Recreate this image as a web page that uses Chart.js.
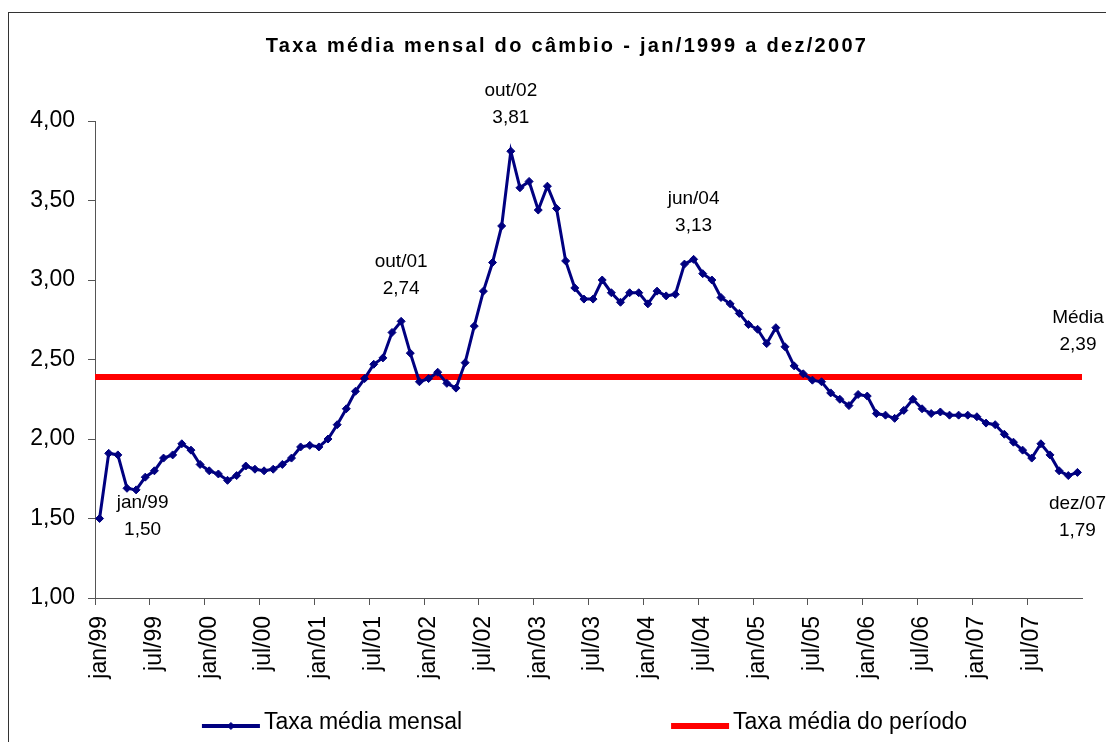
<!DOCTYPE html>
<html lang="pt-BR">
<head>
<meta charset="utf-8">
<title>Taxa média mensal do câmbio</title>
<script src="https://cdn.jsdelivr.net/npm/chart.js@4.4.1/dist/chart.umd.min.js"></script>
<style>
    html, body { margin: 0; padding: 0; background: #fff; overflow: hidden; }
    #wrap { position: relative; width: 1106px; height: 742px; }
    #cambioChart { display: block; }
    #moldura {
        position: absolute; left: 8px; top: 12px;
        width: 1200px; height: 800px;
        border: 1px solid #333; pointer-events: none;
    }
</style>
</head>
<body>
<div id="wrap">
    <canvas id="cambioChart" width="1106" height="742"></canvas>
    <div id="moldura"></div>
</div>
<script>
// Dados (R$/US$, média mensal)
const meses = ['jan', 'fev', 'mar', 'abr', 'mai', 'jun', 'jul', 'ago', 'set', 'out', 'nov', 'dez'];
const anos = ['99', '00', '01', '02', '03', '04', '05', '06', '07'];

const taxa1999 = [1.50, 1.91, 1.90, 1.69, 1.68, 1.76, 1.80, 1.88, 1.90, 1.97, 1.93, 1.84];
const taxa2000 = [1.80, 1.78, 1.74, 1.77, 1.83, 1.81, 1.80, 1.81, 1.84, 1.88, 1.95, 1.96];
const taxa2001 = [1.95, 2.00, 2.09, 2.19, 2.30, 2.38, 2.47, 2.51, 2.67, 2.74, 2.54, 2.36];
const taxa2002 = [2.38, 2.42, 2.35, 2.32, 2.48, 2.71, 2.93, 3.11, 3.34, 3.81, 3.58, 3.62];
const taxa2003 = [3.44, 3.59, 3.45, 3.12, 2.95, 2.88, 2.88, 3.00, 2.92, 2.86, 2.92, 2.92];
const taxa2004 = [2.85, 2.93, 2.90, 2.91, 3.10, 3.13, 3.04, 3.00, 2.89, 2.85, 2.79, 2.72];
const taxa2005 = [2.69, 2.60, 2.70, 2.58, 2.46, 2.41, 2.37, 2.36, 2.29, 2.25, 2.21, 2.28];
const taxa2006 = [2.27, 2.16, 2.15, 2.13, 2.18, 2.25, 2.19, 2.16, 2.17, 2.15, 2.15, 2.15];
const taxa2007 = [2.14, 2.10, 2.09, 2.03, 1.98, 1.93, 1.88, 1.97, 1.90, 1.80, 1.77, 1.79];

const mediaPeriodo = 2.39;

// meses destacados com rótulo (índices na série)
const destaques = [0, 33, 45, 65, 107];

const titulo = 'Taxa média mensal do câmbio - jan/1999 a dez/2007';

const taxa = [].concat(taxa1999, taxa2000, taxa2001, taxa2002, taxa2003,
    taxa2004, taxa2005, taxa2006, taxa2007);
const rotulos = [];
anos.forEach(a => meses.forEach(m => rotulos.push(m + '/' + a)));

const fonte = "'Liberation Sans', Arial, sans-serif";
const corEixo = '#555';
const fmt = v => v.toFixed(2).replace('.', ',');

// deslocamento (px) do rótulo de cada destaque em relação ao ponto
const deslocDestaques = [[43, -16], [0, -60], [0, -60], [0, -61], [0, 31]];

// Título com espaçamento entre letras
const tituloPlugin = {
    id: 'titulo',
    afterDraw(chart) {
        const ctx = chart.ctx;
        ctx.save();
        ctx.font = 'bold 20px ' + fonte;
        ctx.letterSpacing = '2.3px';
        ctx.fillStyle = '#000';
        ctx.textAlign = 'center';
        ctx.textBaseline = 'alphabetic';
        ctx.fillText(titulo, 567, 52);
        ctx.restore();
    }
};

// Rótulos dos pontos destacados e da média
const destaquesPlugin = {
    id: 'destaques',
    afterDatasetsDraw(chart) {
        const { ctx, scales } = chart;
        ctx.save();
        ctx.font = '19px ' + fonte;
        ctx.fillStyle = '#000';
        ctx.textAlign = 'center';
        ctx.textBaseline = 'middle';
        destaques.forEach((i, k) => {
            const [dx, dy] = deslocDestaques[k];
            const px = scales.x.getPixelForValue(i) + dx;
            const py = scales.y.getPixelForValue(taxa[i]) + dy;
            ctx.fillText(rotulos[i], px, py);
            ctx.fillText(fmt(taxa[i]), px, py + 27);
        });
        const mx = scales.x2.getPixelForValue(taxa.length - 0.5) - 4;
        const my = scales.y.getPixelForValue(mediaPeriodo) - 59;
        ctx.fillText('Média', mx, my);
        ctx.fillText(fmt(mediaPeriodo), mx, my + 27);
        ctx.restore();
    }
};

// Legenda no estilo do Excel, perto do centro da área do gráfico
const legendaPlugin = {
    id: 'legendaExcel',
    afterDraw(chart) {
        const { ctx, chartArea } = chart;
        const amostra = 58, folga = 4, espaco = 209, yl = 726;
        ctx.save();
        ctx.font = '23px ' + fonte;
        const itens = chart.data.datasets.map(ds => ({ ds, w: ctx.measureText(ds.label).width }));
        const total = itens.reduce((s, it) => s + amostra + folga + it.w, 0) + espaco;
        let x0 = (chartArea.left + chartArea.right) / 2 - total / 2 - 4;
        itens.forEach(({ ds, w }) => {
            ctx.strokeStyle = ds.borderColor;
            ctx.lineWidth = ds.espessuraLegenda;
            ctx.beginPath();
            ctx.moveTo(x0, yl);
            ctx.lineTo(x0 + amostra, yl);
            ctx.stroke();
            if (ds.pointRadius > 0) {
                ctx.fillStyle = ds.borderColor;
                ctx.lineWidth = 1;
                Chart.helpers.drawPoint(ctx, { pointStyle: 'rectRot', radius: 3.5, borderWidth: 1 }, x0 + amostra / 2, yl);
            }
            ctx.fillStyle = '#000';
            ctx.textAlign = 'left';
            ctx.textBaseline = 'middle';
            ctx.fillText(ds.label, x0 + amostra + folga, yl - 3);
            x0 += amostra + folga + w + espaco;
        });
        ctx.restore();
    }
};

const ctx = document.getElementById('cambioChart').getContext('2d');
const cambioChart = new Chart(ctx, {
    type: 'line',
    data: {
        labels: rotulos,
        datasets: [{
            label: 'Taxa média mensal',
            data: taxa,
            borderColor: '#000080',
            backgroundColor: '#000080',
            borderWidth: 3,
            pointStyle: 'rectRot',
            pointRadius: 4,
            pointBorderWidth: 1,
            pointBackgroundColor: '#000080',
            tension: 0,
            order: 0,
            espessuraLegenda: 4
        }, {
            label: 'Taxa média do período',
            data: [{ x: -0.5, y: mediaPeriodo }, { x: taxa.length - 0.5, y: mediaPeriodo }],
            xAxisID: 'x2',
            borderColor: '#ff0000',
            backgroundColor: '#ff0000',
            borderWidth: 6,
            pointRadius: 0,
            order: 1,
            espessuraLegenda: 6
        }]
    },
    options: {
        responsive: false,
        animation: false,
        layout: { padding: { left: 8, right: 24, top: 121, bottom: 60 } },
        scales: {
            x: {
                type: 'category',
                offset: true,
                border: { display: true, color: corEixo, width: 1 },
                grid: {
                    offset: true,
                    drawOnChartArea: false,
                    drawTicks: true,
                    tickLength: 7,
                    color: c => (c.index % 6 === 0 ? corEixo : 'rgba(0,0,0,0)'),
                    tickColor: c => (c.index % 6 === 0 ? corEixo : 'rgba(0,0,0,0)')
                },
                ticks: {
                    autoSkip: false,
                    minRotation: 90,
                    maxRotation: 90,
                    padding: 11,
                    color: '#000',
                    font: { family: fonte, size: 23 },
                    callback: function (val, i) { return i % 6 === 0 ? rotulos[i] : ''; }
                },
                afterFit: s => {
                    s.height = 84;
                    s.paddingLeft = 0;
                    s.paddingRight = 0;
                }
            },
            x2: {
                type: 'linear',
                display: false,
                min: -0.5,
                max: taxa.length - 0.5
            },
            y: {
                min: 1,
                max: 4,
                border: { display: true, color: corEixo, width: 1 },
                grid: {
                    drawOnChartArea: false,
                    drawTicks: true,
                    tickLength: 7,
                    color: corEixo
                },
                ticks: {
                    stepSize: 0.5,
                    padding: 13,
                    color: '#000',
                    font: { family: fonte, size: 23 },
                    callback: v => fmt(v)
                },
                afterFit: s => { s.width = 87; }
            }
        },
        plugins: {
            legend: { display: false },
            title: { display: false },
            tooltip: { enabled: false }
        }
    },
    plugins: [tituloPlugin, destaquesPlugin, legendaPlugin]
});
</script>
</body>
</html>
